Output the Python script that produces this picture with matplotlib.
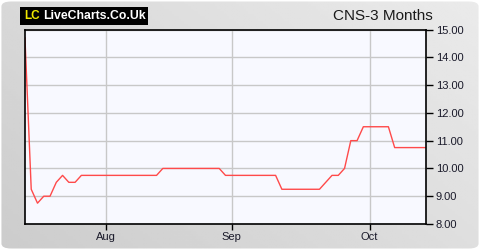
import matplotlib
matplotlib.use("Agg")
import matplotlib.pyplot as plt
import numpy as np
from matplotlib.patches import FancyBboxPatch, Rectangle

# closing prices, one per trading day
prices = [14.7, 9.25, 8.75, 9.0, 9.0, 9.5, 9.75, 9.5, 9.5] + [9.75] * 13 \
    + [10.0] * 10 + [9.75] * 9 + [9.25] * 7 \
    + [9.5, 9.75, 9.75, 10.0, 11.0, 11.0] + [11.5] * 5 + [10.75] * 6
month_pos = [13, 33, 55]
month_labels = ["Aug", "Sep", "Oct"]
y_ticks = [8, 9, 10, 11, 12, 13, 14, 15]

fig = plt.figure(figsize=(4.8, 2.5), dpi=100)
fig.patch.set_facecolor("white")

# grey rounded background with a soft gradient
bg = fig.add_axes([0, 0, 1, 1], zorder=-10)
bg.set_axis_off()
gx, gy = np.meshgrid(np.linspace(0, 1, 200), np.linspace(0, 1, 100))
grad = 0.80 + 0.12 * (0.6 * gx + 0.4 * gy)
im = bg.imshow(grad, cmap="gray", vmin=0, vmax=1, extent=[0, 1, 0, 1],
               origin="lower", aspect="auto")
box = FancyBboxPatch((0.003, 0.006), 0.994, 0.988,
                     boxstyle="round,pad=0,rounding_size=0.02",
                     transform=bg.transAxes, facecolor="none", edgecolor="none")
bg.add_patch(box)
im.set_clip_path(box)
bg.set_xlim(0, 1)
bg.set_ylim(0, 1)

# logo
bg.add_patch(Rectangle((0.042, 0.900), 0.266, 0.072, facecolor="black",
                       edgecolor="none"))
bg.text(0.051, 0.935, "LC", color="#f0e800", fontsize=8.5, fontweight="bold",
        va="center", ha="left", family="Liberation Sans")
bg.text(0.089, 0.935, "LiveCharts.Co.Uk", color="white", fontsize=8.8,
        fontweight="bold", va="center", ha="left", family="Liberation Sans")

ax = fig.add_axes([0.052, 0.104, 0.8355, 0.778])
ax.set_facecolor("#f8f9ff")
x = np.arange(len(prices))
ax.plot(x, prices, color="#ff4a4a", linewidth=1.0)
ax.set_xlim(0, len(prices) - 1)
ax.set_ylim(8, 15)

ax.set_xticks(month_pos)
ax.set_xticklabels(month_labels)
ax.set_yticks(y_ticks)
ax.set_yticklabels(["%.2f" % v for v in y_ticks])
ax.yaxis.tick_right()
ax.tick_params(axis="both", labelsize=8, colors="black", labelcolor="#1a1a2a",
               width=1, direction="out", pad=2)
ax.tick_params(axis="y", length=5)
ax.tick_params(axis="x", length=4)
for lab in ax.get_xticklabels() + ax.get_yticklabels():
    lab.set_family("Liberation Sans")
ax.grid(True, color="#c8c8c8", linewidth=1)
ax.set_axisbelow(True)
for s in ax.spines.values():
    s.set_color("black")
    s.set_linewidth(1.2)

fig.text(0.902, 0.935, "CNS-3 Months", color="#1a1a1a", fontsize=11,
         va="center", ha="right", family="Liberation Sans")

fig.savefig("out.png", dpi=100)
